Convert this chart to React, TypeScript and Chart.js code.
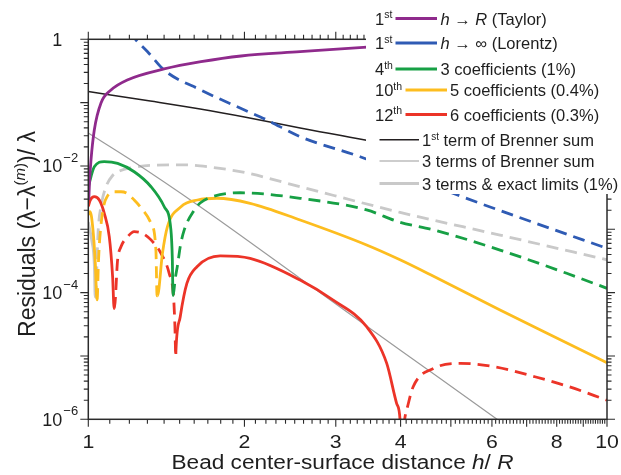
import React, { useEffect, useRef } from "react";
import { Chart, registerables } from "chart.js";

Chart.register(...registerables);

// ---------- data (h/R, signed residual; negative = dashed) ----------
const taylorH = [1.002, 1.006, 1.012, 1.027, 1.058, 1.106, 1.189, 1.4, 1.649, 1.97, 2.561, 3.39, 3.6];
const taylorV = [2.9e-3, 6e-3, 0.0124, 0.037, 0.0987, 0.158, 0.228, 0.34, 0.443, 0.545, 0.637, 0.748, 0.77];

const lorentzH = [1.2, 1.236, 1.301, 1.4, 1.649, 2.0, 2.21, 2.561, 3.343, 5.15, 7.26, 10];
const lorentzV = [-1.3, -0.975, -0.637, -0.327, -0.158, -0.0765, -0.0532, -0.029, -0.014, -3.48e-3, -1.26e-3, -5.0e-4];

const coef3H = [1, 1.027, 1.073, 1.139, 1.226, 1.321, 1.401, 1.443, 1.452, 1.4565, 1.4575, 1.47, 1.486, 1.505, 1.531, 1.6, 1.643, 1.736, 1.963, 2.561, 3.44, 3.99, 4.63, 6.22, 8.36, 10];
const coef3V = [4.7e-3, 9.7e-3, 0.0117, 0.011, 8.1e-3, 4.7e-3, 2.27e-3, 9.8e-4, 3.5e-4, 9e-5, -9e-5, -1.6e-4, -2.7e-4, -5.5e-4, -9.8e-4, -2.0e-3, -2.6e-3, -3.27e-3, -3.78e-3, -3.09e-3, -2.02e-3, -1.29e-3, -9.8e-4, -4.7e-4, -2.02e-4, -1.17e-4];

const coef5H = [1, 1.008, 1.021, 1.0316, 1.039, 1.040, 1.046, 1.052, 1.07, 1.09, 1.119, 1.156, 1.187, 1.226, 1.259, 1.321, 1.35, 1.357, 1.359, 1.39, 1.421, 1.509, 1.624, 1.77, 2.051, 2.561, 3.44, 3.99, 4.62, 6.22, 8.37, 10];
const coef5V = [1.7e-3, 1.9e-3, 9.8e-4, 2.9e-4, 7.7e-5, -7.7e-5, -3e-4, -7e-4, -2.27e-3, -3.4e-3, -3.92e-3, -3.92e-3, -3.7e-3, -2.9e-3, -2.27e-3, -1.24e-3, -4.7e-4, -8.9e-5, 8.9e-5, 4.2e-4, 1.1e-3, 2.27e-3, 2.9e-3, 3.09e-3, 2.57e-3, 1.4e-3, 5.65e-4, 3.3e-4, 1.83e-4, 5.3e-5, 1.6e-5, 7.8e-6];

const coef6H = [1, 1.009, 1.027, 1.05, 1.0735, 1.0977, 1.114, 1.1215, 1.1225, 1.139, 1.156, 1.19, 1.226, 1.272, 1.321, 1.38, 1.432, 1.46, 1.469, 1.4745, 1.4755, 1.504, 1.549, 1.62, 1.796, 2.051, 2.561, 2.966, 3.44, 3.76, 3.93, 3.99, 4.005, 4.015, 4.08, 4.11, 4.23, 4.64, 5.22, 6.07, 7.26, 8.45, 10];
const coef6V = [2.3e-3, 2.9e-3, 3.27e-3, 2.9e-3, 1.79e-3, 7.6e-4, 1.78e-4, 5.6e-5, -5.6e-5, -3.3e-4, -5.3e-4, -7.6e-4, -9.2e-4, -8.65e-4, -6.8e-4, -4.2e-4, -2.02e-4, -8.6e-5, -2.9e-5, -9.7e-6, 1.2e-5, 4.17e-5, 1.4e-4, 2.57e-4, 3.8e-4, 3.48e-4, 1.58e-4, 7.6e-5, 2.9e-5, 7.7e-6, 1.79e-6, 1.0e-6, 4e-7, -4e-7, -1.1e-6, -1.4e-6, -3.27e-6, -6.4e-6, -7.66e-6, -6.76e-6, -4.7e-6, -3.27e-6, -2.0e-6];

const brenner1H = [1, 1.317, 1.643, 2, 2.561, 3.418, 3.6];
const brenner1V = [0.15, 0.106, 0.0793, 0.0593, 0.0398, 0.0257, 0.0235];

const brenner3H = [1, 1.209, 1.643, 2.561, 3.99, 6.09, 6.79];
const brenner3V = [0.0331, 0.0124, 2.27e-3, 1.68e-4, 1.24e-5, 1.05e-6, 5.5e-7];

const exactH = [1, 1.015, 1.027, 1.031, 1.032, 1.045, 1.059, 1.083, 1.112, 1.152, 1.205, 1.316, 1.531, 1.717, 2, 2.561, 3.99, 6.22, 10];
const exactV = [1.3e-3, 6.8e-4, 2.8e-4, 8.5e-5, -8.5e-5, -9.8e-4, -2.4e-3, -4.8e-3, -6.95e-3, -8.4e-3, -9.3e-3, -0.0102, -0.0104, -9.6e-3, -7.9e-3, -4.7e-3, -1.85e-3, -8.1e-4, -3.3e-4];

const xTickLabels = [1, 2, 3, 4, 6, 8, 10];
const yTickLabelExponents = [0, -2, -4, -6];

const legendOrdinals = ["1", "1", "4", "10", "12", "", "", ""];
const legendSuffixes = ["st", "st", "th", "th", "th", "", "", ""];
const legendLabels = ["h → R (Taylor)", "h → ∞ (Lorentz)", "3 coefficients (1%)", "5 coefficients (0.4%)", "6 coefficients (0.3%)", "1st term of Brenner sum", "3 terms of Brenner sum", "3 terms & exact limits (1%)"];

// ---------- styles ----------
const FONT = '"Liberation Sans", Arial, Helvetica, sans-serif';
const AXIS = "#2b2b2b";
const DASH = [12, 7];
const COLORS = {
  purple: "#8f2a8c",
  blue: "#2f5bb4",
  green: "#17a045",
  yellow: "#fdbd1f",
  red: "#ec3428",
  black: "#231f20",
  gray: "#9b9b9b",
  light: "#c9c9c9",
};

type Pt = { x: number; y: number; neg: boolean };
const toPts = (h: number[], v: number[]): Pt[] => h.map((x, i) => ({ x, y: Math.abs(v[i]), neg: v[i] < 0 }));

function makeDataset(label: string, h: number[], v: number[], color: string, width: number) {
  const data = toPts(h, v);
  return {
    label,
    data,
    borderColor: color,
    backgroundColor: color,
    borderWidth: width,
    pointRadius: 0,
    fill: false,
    cubicInterpolationMode: "monotone" as const,
    borderCapStyle: "butt" as const,
    segment: {
      borderDash: (c: any) => (data[c.p0DataIndex].neg || data[c.p1DataIndex].neg ? DASH : undefined),
    },
  };
}

type Piece = { t: string; font: string; dy?: number };

function piecesWidth(ctx: CanvasRenderingContext2D, pieces: Piece[]) {
  let w = 0;
  for (const p of pieces) {
    ctx.font = p.font;
    w += ctx.measureText(p.t).width;
  }
  return w;
}

function drawPieces(ctx: CanvasRenderingContext2D, pieces: Piece[], x: number, y: number) {
  let cx = x;
  ctx.textAlign = "left";
  ctx.textBaseline = "alphabetic";
  for (const p of pieces) {
    ctx.font = p.font;
    ctx.fillText(p.t, cx, y + (p.dy || 0));
    cx += ctx.measureText(p.t).width;
  }
  return cx;
}

function labelPieces(label: string, size: number): Piece[] {
  const n = `${size}px ${FONT}`;
  const it = `italic ${size}px ${FONT}`;
  const sup = `${Math.round(size * 0.62)}px ${FONT}`;
  if (label.startsWith("h → R")) {
    return [{ t: "h", font: it }, { t: " → ", font: n }, { t: "R", font: it }, { t: label.slice(5), font: n }];
  }
  if (label.startsWith("h → ∞")) {
    return [{ t: "h", font: it }, { t: label.slice(1), font: n }];
  }
  if (label.startsWith("1st")) {
    return [{ t: "1", font: n }, { t: "st", font: sup, dy: -6 }, { t: label.slice(3), font: n }];
  }
  return [{ t: label, font: n }];
}

const decorPlugin = {
  id: "decor",
  afterDatasetsDraw(chart: any) {
    const { ctx, chartArea: a, scales } = chart;
    const xs = scales.x;
    const ys = scales.y;
    ctx.save();

    // frame
    ctx.strokeStyle = AXIS;
    ctx.lineWidth = 1.5;
    ctx.strokeRect(a.left, a.top, a.right - a.left, a.bottom - a.top);

    // ticks (outward)
    ctx.lineWidth = 1.1;
    ctx.beginPath();
    for (let k = 10; k <= 100; k++) {
      const px = xs.getPixelForValue(k / 10);
      const len = k % 10 === 0 ? 7.5 : 4.5;
      ctx.moveTo(px, a.bottom);
      ctx.lineTo(px, a.bottom + len);
      ctx.moveTo(px, a.top);
      ctx.lineTo(px, a.top - len);
    }
    for (let e = -6; e <= 0; e++) {
      for (let m = 1; m <= 9; m++) {
        const v = m * Math.pow(10, e);
        if (v > 1.000001) break;
        const py = ys.getPixelForValue(v);
        const len = m === 1 ? 8 : 4.5;
        ctx.moveTo(a.left, py);
        ctx.lineTo(a.left - len, py);
        ctx.moveTo(a.right, py);
        ctx.lineTo(a.right + len, py);
      }
    }
    ctx.stroke();

    ctx.fillStyle = "#1e1e1e";
    // x tick labels
    ctx.font = `19px ${FONT}`;
    ctx.textAlign = "center";
    ctx.textBaseline = "alphabetic";
    for (const l of xTickLabels) {
      const px = xs.getPixelForValue(l);
      ctx.save();
      ctx.translate(px, a.bottom + 28.5);
      ctx.scale(1.12, 1);
      ctx.fillText(String(l), 0, 0);
      ctx.restore();
    }
    // y tick labels
    for (const e of yTickLabelExponents) {
      const py = ys.getPixelForValue(Math.pow(10, e));
      const base = e === 0 ? "1" : "10";
      ctx.font = `18px ${FONT}`;
      ctx.textAlign = "right";
      ctx.fillText(base, a.left - 26, py + 6.5);
      if (e !== 0) {
        ctx.font = `13px ${FONT}`;
        ctx.textAlign = "left";
        ctx.fillText("−" + Math.abs(e), a.left - 25, py - 4);
      }
    }

    // x title
    ctx.save();
    ctx.translate(171.5, 468.5);
    ctx.scale(1.16, 1);
    drawPieces(ctx, [
      { t: "Bead center-surface distance ", font: `19.5px ${FONT}` },
      { t: "h", font: `italic 19.5px ${FONT}` },
      { t: "/ ", font: `19.5px ${FONT}` },
      { t: "R", font: `italic 19.5px ${FONT}` },
    ], 0, 0);
    ctx.restore();

    // y title
    const yt: Piece[] = [
      { t: "Residuals (λ−λ", font: `23px ${FONT}` },
      { t: "(", font: `15px ${FONT}`, dy: -10 },
      { t: "m", font: `italic 15px ${FONT}`, dy: -10 },
      { t: ")", font: `15px ${FONT}`, dy: -10 },
      { t: ")/ λ", font: `23px ${FONT}` },
    ];
    ctx.save();
    ctx.translate(35, 234);
    ctx.rotate(-Math.PI / 2);
    const yw = piecesWidth(ctx, yt);
    drawPieces(ctx, yt, -yw / 2, 0);
    ctx.restore();

    // legend (opaque box over the top-right corner)
    ctx.fillStyle = "#ffffff";
    ctx.fillRect(366, 0, chart.width - 366, 194);
    const rowY = [18.5, 43, 69, 90, 114.5, 139.7, 161, 183.5];
    const ds = chart.data.datasets;
    const fs = 16.5;
    for (let i = 0; i < legendLabels.length; i++) {
      const cy = rowY[i];
      const baseY = cy + 6;
      ctx.fillStyle = "#1e1e1e";
      let sx0: number, sx1: number, tx: number;
      if (i <= 2) { sx0 = 395.5; sx1 = 437; tx = 440.5; }
      else if (i <= 4) { sx0 = 405.5; sx1 = 447; tx = 450; }
      else { sx0 = 379.5; sx1 = 419; tx = 422; }
      if (legendOrdinals[i]) {
        drawPieces(ctx, [
          { t: legendOrdinals[i], font: `${fs}px ${FONT}` },
          { t: legendSuffixes[i], font: `10.5px ${FONT}`, dy: -6.5 },
        ], 375, baseY);
      }
      const d = ds[i];
      ctx.strokeStyle = d.borderColor;
      ctx.lineWidth = d.borderWidth;
      ctx.setLineDash([]);
      ctx.beginPath();
      ctx.moveTo(sx0, cy);
      ctx.lineTo(sx1, cy);
      ctx.stroke();
      ctx.fillStyle = "#1e1e1e";
      drawPieces(ctx, labelPieces(legendLabels[i], fs), tx, baseY);
    }
    ctx.restore();
  },
};

export default function App() {
  const ref = useRef<HTMLCanvasElement | null>(null);
  useEffect(() => {
    if (!ref.current) return;
    const chart = new Chart(ref.current, {
      type: "line",
      data: {
        datasets: [
          makeDataset(legendLabels[0], taylorH, taylorV, COLORS.purple, 2.8),
          makeDataset(legendLabels[1], lorentzH, lorentzV, COLORS.blue, 2.8),
          makeDataset(legendLabels[2], coef3H, coef3V, COLORS.green, 2.8),
          makeDataset(legendLabels[3], coef5H, coef5V, COLORS.yellow, 2.8),
          makeDataset(legendLabels[4], coef6H, coef6V, COLORS.red, 2.8),
          makeDataset(legendLabels[5], brenner1H, brenner1V, COLORS.black, 1.5),
          makeDataset(legendLabels[6], brenner3H, brenner3V, COLORS.gray, 1.2),
          makeDataset(legendLabels[7], exactH, exactV, COLORS.light, 2.8),
        ] as any,
      },
      options: {
        responsive: false,
        animation: false,
        devicePixelRatio: 1,
        layout: { padding: { left: 88.3, right: 14, top: 39.3, bottom: 55.7 } },
        scales: {
          x: { type: "logarithmic", min: 1, max: 10, display: false },
          y: { type: "logarithmic", min: 1e-6, max: 1, display: false },
        },
        plugins: { legend: { display: false }, tooltip: { enabled: false } },
        elements: { point: { radius: 0 } },
      } as any,
      plugins: [decorPlugin],
    });
    return () => chart.destroy();
  }, []);
  return (
    <canvas
      ref={ref}
      width={621}
      height={475}
      style={{ position: "absolute", left: 0, top: 0, width: 621, height: 475, background: "#fff" }}
    />
  );
}
